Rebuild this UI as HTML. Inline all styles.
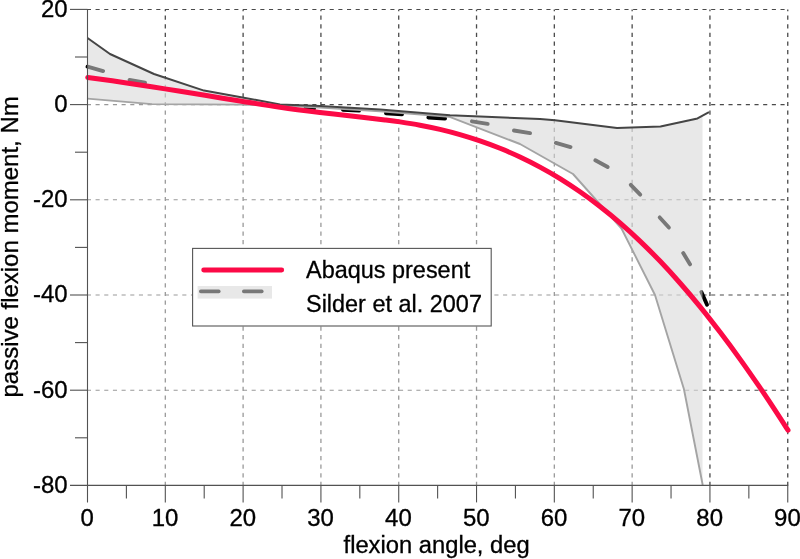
<!DOCTYPE html>
<html><head><meta charset="utf-8"><title>Passive flexion moment</title>
<style>html,body{margin:0;padding:0;background:#fff;overflow:hidden}svg{display:block}text{font-family:"Liberation Sans",sans-serif;fill:#000;stroke:#000;stroke-width:0.3px}</style></head><body>
<svg width="800" height="559" viewBox="0 0 800 559">
<rect width="800" height="559" fill="#fff"/>
<g stroke="#4a4a4a" stroke-width="1.05" fill="none" stroke-dasharray="4.1 4.57">
<line x1="86.9" y1="9.40" x2="788.25" y2="9.40"/>
<line x1="86.9" y1="104.60" x2="788.25" y2="104.60"/>
<line x1="86.9" y1="199.80" x2="788.25" y2="199.80"/>
<line x1="86.9" y1="295.00" x2="788.25" y2="295.00"/>
<line x1="86.9" y1="390.20" x2="788.25" y2="390.20"/>
</g>
<g stroke="#4a4a4a" stroke-width="1.3" fill="none" stroke-dasharray="4.2 4.435" stroke-dashoffset="2.47">
<line x1="165.31" y1="9.40" x2="165.31" y2="485.40"/>
<line x1="243.11" y1="9.40" x2="243.11" y2="485.40"/>
<line x1="320.92" y1="9.40" x2="320.92" y2="485.40"/>
<line x1="398.72" y1="9.40" x2="398.72" y2="485.40"/>
<line x1="476.53" y1="9.40" x2="476.53" y2="485.40"/>
<line x1="554.33" y1="9.40" x2="554.33" y2="485.40"/>
<line x1="632.14" y1="9.40" x2="632.14" y2="485.40"/>
<line x1="709.94" y1="9.40" x2="709.94" y2="485.40"/>
<line x1="787.75" y1="9.40" x2="787.75" y2="485.40"/>
</g>
<polygon points="87.50,38.00 110.00,54.00 154.00,74.00 204.00,90.60 242.50,97.40 280.00,104.40 320.00,105.90 380.00,109.50 450.00,115.30 540.00,119.00 555.00,120.30 617.00,128.00 660.50,126.50 697.50,118.40 702.50,115.40 702.50,485.40 87.50,485.40" fill="#ffffff" fill-opacity="0.44" stroke="none"/>
<g stroke="#000" stroke-width="3.9" stroke-linecap="round" fill="none">
<line x1="87.50" y1="66.70" x2="103.12" y2="71.07"/>
<line x1="129.52" y1="79.94" x2="145.08" y2="82.66"/>
<line x1="305.70" y1="107.90" x2="314.05" y2="108.30"/>
<line x1="342.95" y1="109.71" x2="359.05" y2="110.59"/>
<line x1="385.95" y1="113.22" x2="402.05" y2="114.18"/>
<line x1="428.35" y1="117.43" x2="445.05" y2="118.57"/>
<line x1="471.92" y1="121.31" x2="487.68" y2="123.89"/>
<line x1="513.93" y1="130.51" x2="530.07" y2="133.09"/>
<line x1="555.88" y1="142.93" x2="570.52" y2="147.07"/>
<line x1="595.31" y1="160.33" x2="607.69" y2="167.07"/>
<line x1="630.76" y1="184.80" x2="640.24" y2="194.60"/>
<line x1="659.71" y1="217.44" x2="668.89" y2="227.56"/>
<line x1="683.21" y1="253.07" x2="689.99" y2="264.33"/>
<line x1="701.38" y1="291.99" x2="707.02" y2="304.81"/>
</g>
<polygon points="87.50,38.00 110.00,54.00 154.00,74.00 204.00,90.60 242.50,97.40 280.00,104.40 320.00,105.90 380.00,109.50 450.00,115.30 540.00,119.00 555.00,120.30 617.00,128.00 660.50,126.50 697.50,118.40 702.50,115.40 702.50,485.00 683.90,389.00 655.00,295.00 621.50,228.50 573.00,174.00 520.00,144.00 449.00,116.70 380.00,111.20 320.00,107.60 280.00,105.60 242.00,104.60 152.00,104.10 87.50,98.60" fill="#d6d6d6" fill-opacity="0.56" stroke="none"/>
<polyline points="87.50,98.60 152.00,104.10 242.00,104.60 280.00,105.60 320.00,107.60 380.00,111.20 449.00,116.70 520.00,144.00 573.00,174.00 621.50,228.50 655.00,295.00 683.90,389.00 702.70,485.00" fill="none" stroke="#a4a4a4" stroke-width="1.9" stroke-linejoin="round"/>
<polyline points="87.50,38.00 110.00,54.00 154.00,74.00 204.00,90.60 242.50,97.40 280.00,104.40 320.00,105.90 380.00,109.50 450.00,115.30 540.00,119.00 555.00,120.30 617.00,128.00 660.50,126.50 697.50,118.40 709.00,112.20" fill="none" stroke="#454545" stroke-width="2.0" stroke-linejoin="round"/>
<path d="M87.80,77.40 C94.00,78.28 112.13,80.78 125.00,82.70 C137.87,84.62 151.67,86.80 165.00,88.90 C178.33,91.00 192.50,93.28 205.00,95.30 C217.50,97.32 227.50,99.00 240.00,101.00 C252.50,103.00 266.67,105.38 280.00,107.30 C293.33,109.22 306.67,110.88 320.00,112.50 C333.33,114.12 349.17,115.77 360.00,117.00 C370.83,118.23 378.33,119.08 385.00,119.90 C391.67,120.72 394.17,121.02 400.00,121.90 C405.83,122.78 413.33,123.95 420.00,125.20 C426.67,126.45 433.33,127.83 440.00,129.40 C446.67,130.97 453.33,132.68 460.00,134.60 C466.67,136.52 473.33,138.62 480.00,140.90 C486.67,143.18 493.33,145.62 500.00,148.30 C506.67,150.98 513.33,153.87 520.00,157.00 C526.67,160.13 533.33,163.50 540.00,167.10 C546.67,170.70 553.33,174.48 560.00,178.60 C566.67,182.72 573.33,187.15 580.00,191.80 C586.67,196.45 593.33,201.32 600.00,206.50 C606.67,211.68 613.33,217.13 620.00,222.90 C626.67,228.67 633.33,234.73 640.00,241.10 C646.67,247.47 653.33,254.12 660.00,261.10 C666.67,268.08 673.33,275.42 680.00,283.00 C686.67,290.58 693.33,298.42 700.00,306.60 C706.67,314.78 713.33,323.35 720.00,332.10 C726.67,340.85 733.33,349.83 740.00,359.10 C746.67,368.37 754.17,379.20 760.00,387.70 C765.83,396.20 770.33,403.02 775.00,410.10 C779.67,417.18 785.83,426.85 788.00,430.20" fill="none" stroke="#fc0a46" stroke-width="5.0" stroke-linecap="round" stroke-linejoin="round"/>
<g stroke="#525252" stroke-width="1.1" fill="none">
<line x1="87.50" y1="9.40" x2="87.50" y2="502.40"/>
<line x1="70.00" y1="485.40" x2="788.25" y2="485.40"/>
<line x1="70.00" y1="9.40" x2="87.50" y2="9.40"/>
<line x1="75.00" y1="57.00" x2="87.50" y2="57.00"/>
<line x1="70.00" y1="104.60" x2="87.50" y2="104.60"/>
<line x1="75.00" y1="152.20" x2="87.50" y2="152.20"/>
<line x1="70.00" y1="199.80" x2="87.50" y2="199.80"/>
<line x1="75.00" y1="247.40" x2="87.50" y2="247.40"/>
<line x1="70.00" y1="295.00" x2="87.50" y2="295.00"/>
<line x1="75.00" y1="342.60" x2="87.50" y2="342.60"/>
<line x1="70.00" y1="390.20" x2="87.50" y2="390.20"/>
<line x1="75.00" y1="437.80" x2="87.50" y2="437.80"/>
<line x1="126.40" y1="485.40" x2="126.40" y2="498.40"/>
<line x1="165.31" y1="485.40" x2="165.31" y2="502.40"/>
<line x1="204.21" y1="485.40" x2="204.21" y2="498.40"/>
<line x1="243.11" y1="485.40" x2="243.11" y2="502.40"/>
<line x1="282.01" y1="485.40" x2="282.01" y2="498.40"/>
<line x1="320.92" y1="485.40" x2="320.92" y2="502.40"/>
<line x1="359.82" y1="485.40" x2="359.82" y2="498.40"/>
<line x1="398.72" y1="485.40" x2="398.72" y2="502.40"/>
<line x1="437.62" y1="485.40" x2="437.62" y2="498.40"/>
<line x1="476.53" y1="485.40" x2="476.53" y2="502.40"/>
<line x1="515.43" y1="485.40" x2="515.43" y2="498.40"/>
<line x1="554.33" y1="485.40" x2="554.33" y2="502.40"/>
<line x1="593.24" y1="485.40" x2="593.24" y2="498.40"/>
<line x1="632.14" y1="485.40" x2="632.14" y2="502.40"/>
<line x1="671.04" y1="485.40" x2="671.04" y2="498.40"/>
<line x1="709.94" y1="485.40" x2="709.94" y2="502.40"/>
<line x1="748.85" y1="485.40" x2="748.85" y2="498.40"/>
<line x1="787.75" y1="485.40" x2="787.75" y2="502.40"/>
</g>
<text transform="translate(67.70,16.70) scale(1.0430,1)" font-size="23.00" text-anchor="end">20</text>
<text transform="translate(67.70,111.90) scale(1.0430,1)" font-size="23.00" text-anchor="end">0</text>
<text transform="translate(67.70,207.10) scale(1.0430,1)" font-size="23.00" text-anchor="end">-20</text>
<text transform="translate(67.70,302.30) scale(1.0430,1)" font-size="23.00" text-anchor="end">-40</text>
<text transform="translate(67.70,397.50) scale(1.0430,1)" font-size="23.00" text-anchor="end">-60</text>
<text transform="translate(67.70,492.70) scale(1.0430,1)" font-size="23.00" text-anchor="end">-80</text>
<text transform="translate(87.20,525.60) scale(1.0430,1)" font-size="23.00" text-anchor="middle">0</text>
<text transform="translate(165.01,525.60) scale(1.0430,1)" font-size="23.00" text-anchor="middle">10</text>
<text transform="translate(242.81,525.60) scale(1.0430,1)" font-size="23.00" text-anchor="middle">20</text>
<text transform="translate(320.62,525.60) scale(1.0430,1)" font-size="23.00" text-anchor="middle">30</text>
<text transform="translate(398.42,525.60) scale(1.0430,1)" font-size="23.00" text-anchor="middle">40</text>
<text transform="translate(476.23,525.60) scale(1.0430,1)" font-size="23.00" text-anchor="middle">50</text>
<text transform="translate(554.03,525.60) scale(1.0430,1)" font-size="23.00" text-anchor="middle">60</text>
<text transform="translate(631.84,525.60) scale(1.0430,1)" font-size="23.00" text-anchor="middle">70</text>
<text transform="translate(709.64,525.60) scale(1.0430,1)" font-size="23.00" text-anchor="middle">80</text>
<text transform="translate(787.45,525.60) scale(1.0430,1)" font-size="23.00" text-anchor="middle">90</text>
<text transform="translate(436.60,552.80) scale(1.0240,1)" font-size="23.20" text-anchor="middle">flexion angle, deg</text>
<text transform="translate(17.80,246.90) rotate(-90) scale(1.0210,1)" font-size="23.50" text-anchor="middle">passive flexion moment, Nm</text>
<rect x="192.6" y="248.4" width="298.6" height="77.6" fill="#fff" stroke="#555" stroke-width="1.1"/>
<line x1="203.7" y1="270" x2="281.7" y2="270" stroke="#fc0a46" stroke-width="4.9" stroke-linecap="round"/>
<g stroke="#000" stroke-width="3.6" stroke-linecap="round"><line x1="200.8" y1="291.4" x2="218.8" y2="291.4"/><line x1="243.8" y1="291.4" x2="261.8" y2="291.4"/></g>
<rect x="197.6" y="286" width="74.4" height="12.6" fill="#d6d6d6" fill-opacity="0.56"/>
<text transform="translate(306.00,277.70) scale(0.9770,1)" font-size="24.00" text-anchor="start">Abaqus present</text>
<text transform="translate(306.00,312.30) scale(0.9770,1)" font-size="24.00" text-anchor="start">Silder et al. 2007</text>
</svg></body></html>
